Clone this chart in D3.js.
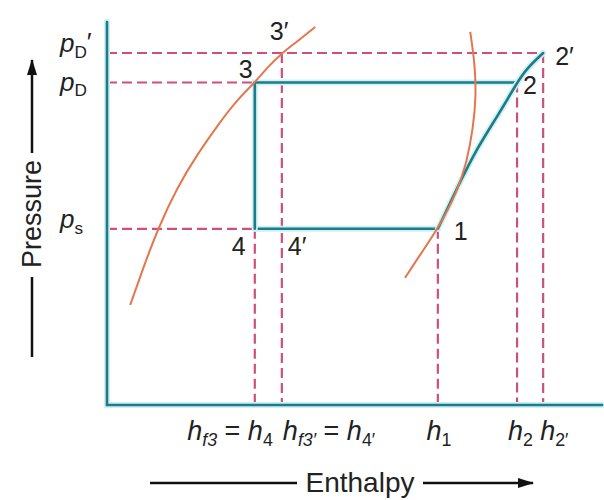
<!DOCTYPE html>
<html>
<head>
<meta charset="utf-8">
<title>p-h diagram</title>
<script src="https://cdn.jsdelivr.net/npm/d3@7/dist/d3.min.js"></script>
<style>
  body { margin: 0; background: #fff; }
  text { font-family: "Liberation Sans", Arial, sans-serif; fill: #222; }
</style>
</head>
<body>
<script>
var width = 604, height = 500;

// enthalpy marks on the x axis (arbitrary units)
var hValues = [30.6, 36.2, 68.5, 84.9, 90.3];   // h4, h4', h1, h2, h2'
// pressure levels on the y axis
var pValues = [46, 84.2, 91.9];                 // ps, pD, pD'

// state points of the cycle
var stateNames = ['1', '2', "2\u2032", '3', "3\u2032", '4', "4\u2032"];
var stateH = [68.5, 84.9, 90.3, 30.6, 36.2, 30.6, 36.2];
var stateP = [46, 84.2, 91.9, 84.2, 91.9, 46, 46];

// saturation dome
var liquidLine = [[4.8,26.1],[7.5,35.8],[10.6,46.2],[14.5,56.7],[18.6,65.3],[23.4,73.9],[26.9,79.6],[30.6,84.2],[33.1,88.0],[36.2,91.9],[39.3,94.8],[43.1,98.7]];
var vaporLine  = [[75.2,97.4],[76.2,88.8],[76.4,80.2],[75.8,72.3],[74.5,63.4],[72.5,55.6],[68.5,46.0],[64.8,39.2],[61.7,33.2]];
// compression 1 -> 2 -> 2'
var compressLine = [[68.5,46],[72.5,56.7],[76.6,67.1],[81.4,76.5],[84.9,84.2],[87.0,88.0],[90.3,91.9]];

var x = d3.scaleLinear().domain([0,100]).range([107,590]);
var y = d3.scaleLinear().domain([0,100]).range([405,22]);

var svg = d3.select('body').append('svg').attr('width',width).attr('height',height);

var defs = svg.append('defs');
defs.append('marker').attr('id','arr').attr('viewBox','0 0 16 10')
  .attr('refX',15).attr('refY',5).attr('markerWidth',16).attr('markerHeight',10)
  .attr('markerUnits','userSpaceOnUse').attr('orient','auto')
  .append('path').attr('d','M0,0 L16,5 L0,10 Z').attr('fill','#111');

var line = d3.line().x(function(d){ return x(d[0]); }).y(function(d){ return y(d[1]); });
var smooth = d3.line().curve(d3.curveBasis).x(function(d){ return x(d[0]); }).y(function(d){ return y(d[1]); });

var teal = '#1f7b86', halo = '#cdf1f4', dashCol = '#cf4f7c', orange = '#e2774f';

function tealPath(d, gen){
  svg.append('path').attr('d',gen(d)).attr('fill','none').attr('stroke',halo).attr('stroke-width',6).attr('stroke-linecap','round');
  svg.append('path').attr('d',gen(d)).attr('fill','none').attr('stroke',teal).attr('stroke-width',2.6).attr('stroke-linecap','round');
}

// dashed guide lines
var dashes = [
  [[0,pValues[2]],[hValues[4],pValues[2]]],
  [[0,pValues[1]],[hValues[0],pValues[1]]],
  [[0,pValues[0]],[hValues[0],pValues[0]]],
  [[hValues[0],pValues[0]],[hValues[0],0]],
  [[hValues[1],pValues[2]],[hValues[1],0]],
  [[hValues[2],pValues[0]],[hValues[2],0]],
  [[hValues[3],pValues[1]],[hValues[3],0]],
  [[hValues[4],pValues[2]],[hValues[4],0]]
];
svg.selectAll('path.dash').data(dashes).enter().append('path').attr('class','dash')
  .attr('d',line).attr('fill','none').attr('stroke',dashCol).attr('stroke-width',2.2)
  .attr('stroke-dasharray','10,5');

// axes
tealPath([[0,100],[0,0],[102.5,0]], line);

// cycle
tealPath([[hValues[0],pValues[0]],[hValues[2],pValues[0]]], line);
tealPath([[hValues[3],pValues[1]],[hValues[0],pValues[1]],[hValues[0],pValues[0]]], line);
tealPath(compressLine, smooth);

// saturation curves
svg.append('path').attr('d',smooth(liquidLine)).attr('fill','none').attr('stroke',orange).attr('stroke-width',2);
svg.append('path').attr('d',smooth(vaporLine)).attr('fill','none').attr('stroke',orange).attr('stroke-width',2);

// state labels
var labOff = [[16,11],[6,11],[12,12],[-16,-5],[-12,-13],[-23,26],[6,26]];
svg.selectAll('text.state').data(stateNames).enter().append('text').attr('class','state')
  .attr('x',function(d,i){ return x(stateH[i]) + labOff[i][0]; })
  .attr('y',function(d,i){ return y(stateP[i]) + labOff[i][1]; })
  .attr('font-size',25).text(function(d){ return d; });

// rich text helper: parts = [text, kind] kind: i italic, s subscript, si italic subscript, q prime, n normal
function rich(g, parts, size){
  var t = g.append('text').attr('font-size',size);
  var shift = 0;
  parts.forEach(function(p){
    var ts = t.append('tspan').text(p[0]);
    var target = 0;
    if (p[1] === 'i') ts.attr('font-style','italic');
    if (p[1] === 's' || p[1] === 'si') { ts.attr('font-size',size*0.66); target = size*0.22; }
    if (p[1] === 'si') ts.attr('font-style','italic');
    if (p[1] === 'q') { target = -size*0.05; }
    if (target !== shift) { ts.attr('dy', target - shift); shift = target; }
  });
  return t;
}

// pressure labels
var pLabels = [
  [['p','i'],['s','s']],
  [['p','i'],['D','s']],
  [['p','i'],['D','s'],["\u2032",'q']]
];
var pOff = [-1, 8, -1];
pLabels.forEach(function(parts,i){
  rich(svg, parts, 26).attr('x',60).attr('y',y(pValues[i]) + pOff[i]);
});

// enthalpy labels
var hLabels = [
  [['h','i'],['f3','si'],[' = ','n'],['h','i'],['4','s']],
  [['h','i'],['f3\u2032','si'],[' = ','n'],['h','i'],['4\u2032','s']],
  [['h','i'],['1','s']],
  [['h','i'],['2','s']],
  [['h','i'],['2\u2032','s']]
];
var hAnchor = ['end','start','middle','start','start'];
var hOff = [18, 1, 1, -9, -3];
hLabels.forEach(function(parts,i){
  rich(svg, parts, 27).attr('x',x(hValues[i]) + hOff[i]).attr('y',440).attr('text-anchor',hAnchor[i]);
});

// axis titles
svg.append('text').attr('x',360).attr('y',492).attr('text-anchor','middle').attr('font-size',28).text('Enthalpy');
svg.append('line').attr('x1',150).attr('x2',297).attr('y1',483).attr('y2',483).attr('stroke','#111').attr('stroke-width',2.5);
svg.append('line').attr('x1',423).attr('x2',533).attr('y1',483).attr('y2',483).attr('stroke','#111').attr('stroke-width',2.5).attr('marker-end','url(#arr)');

svg.append('text').attr('transform','translate(41,214) rotate(-90)').attr('text-anchor','middle').attr('font-size',27).text('Pressure');
svg.append('line').attr('x1',32).attr('x2',32).attr('y1',357).attr('y2',277).attr('stroke','#111').attr('stroke-width',2.5);
svg.append('line').attr('x1',32).attr('x2',32).attr('y1',153).attr('y2',60).attr('stroke','#111').attr('stroke-width',2.5).attr('marker-end','url(#arr)');
</script>
</body>
</html>
